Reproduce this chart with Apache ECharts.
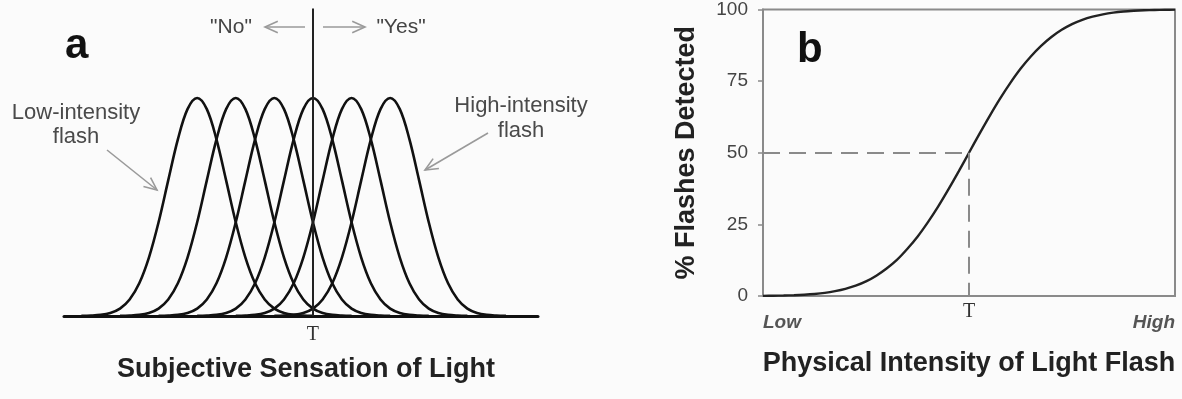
<!DOCTYPE html>
<html>
<head>
<meta charset="utf-8">
<script src="https://cdn.jsdelivr.net/npm/echarts@6/dist/echarts.min.js"></script>
<style>
  html, body { margin: 0; padding: 0; background: #fbfbfb; }
  #chart { width: 1182px; height: 399px; }
</style>
</head>
<body>
<div id="chart"></div>
<script>
// Panel a: six equal-shaped response distributions, one per flash intensity
const curveCenters = [0, 1, 2, 3, 4, 5];           // sensation units, low → high intensity
const criterionX = 3;                               // decision criterion "T"
const bellOffsets = [-3, -2.75, -2.5, -2.25, -2, -1.75, -1.5, -1.25, -1, -0.75, -0.5, -0.25, 0,
                     0.25, 0.5, 0.75, 1, 1.25, 1.5, 1.75, 2, 2.25, 2.5, 2.75, 3];
const bellHeights = [0.05, 0.17, 0.5, 1.4, 3.4, 7.6, 15, 26.8, 43, 62.2, 81, 94.9, 100,
                     94.9, 81, 62.2, 43, 26.8, 15, 7.6, 3.4, 1.4, 0.5, 0.17, 0.05];
const sensationAxisLabels = ['T'];

// Panel b: psychometric function (intensity 0 = Low, 100 = High)
const intensityX  = [0, 2.5, 5, 7.5, 10, 12.5, 15, 17.5, 20, 22.5, 25, 27.5, 30, 32.5, 35, 37.5, 40, 42.5, 45, 47.5,
                     50, 52.5, 55, 57.5, 60, 62.5, 65, 67.5, 70, 72.5, 75, 77.5, 80, 82.5, 85, 87.5, 90, 92.5, 95, 97.5, 100];
const detectedPct = [0.05, 0.1, 0.16, 0.27, 0.45, 0.71, 1.1, 1.7, 2.5, 3.6, 5.1, 7.1, 9.6, 12.6, 16.4, 20.7, 25.7, 31.2, 37.2, 43.5,
                     50, 56.5, 62.8, 68.8, 74.3, 79.3, 83.6, 87.3, 90.4, 92.9, 94.9, 96.4, 97.5, 98.3, 98.9, 99.3, 99.55, 99.73, 99.84, 99.9, 99.95];
const thresholdX = 50;
const thresholdPct = 50;
const intensityLabels = ['Low', 'T', 'High'];
const pctTicks = [0, 25, 50, 75, 100];

const chart = echarts.init(document.getElementById('chart'), null, { renderer: 'canvas' });

const bellSeries = curveCenters.map((c, k) => ({
  type: 'line',
  xAxisIndex: 0,
  yAxisIndex: 0,
  data: bellOffsets.map((o, i) => [c + o, bellHeights[i]]),
  smooth: 0.35,
  symbol: 'none',
  silent: true,
  z: 3,
  lineStyle: { color: '#111', width: 2.6 },
  markLine: k === criterionX ? {
    symbol: 'none',
    silent: true,
    label: { show: false },
    lineStyle: { color: '#222', width: 2, type: 'solid' },
    data: [{ xAxis: criterionX }]
  } : undefined
}));

const labelFont = '"Liberation Sans", Arial, sans-serif';

function arrow(points) {
  // open chevron arrow head at points[1]
  const [x0, y0] = points[0], [x1, y1] = points[1];
  const ang = Math.atan2(y1 - y0, x1 - x0);
  const L = 14, spread = 0.42;
  const a = [x1 - L * Math.cos(ang - spread), y1 - L * Math.sin(ang - spread)];
  const b = [x1 - L * Math.cos(ang + spread), y1 - L * Math.sin(ang + spread)];
  const st = { stroke: '#9a9a9a', lineWidth: 1.6, fill: null };
  return [
    { type: 'polyline', shape: { points: [[x0, y0], [x1, y1]] }, style: st, silent: true },
    { type: 'polyline', shape: { points: [a, [x1, y1], b] }, style: st, silent: true }
  ];
}

const option = {
  backgroundColor: '#fbfbfb',
  animation: false,
  grid: [
    { left: 64, right: 644, top: 8.6, bottom: 83 },
    { left: 763, right: 7, top: 8, bottom: 103, show: true, borderColor: '#8a8a8a', borderWidth: 2, backgroundColor: 'transparent' }
  ],
  xAxis: [
    {
      gridIndex: 0, type: 'value', min: -3.45, max: 8.83,
      axisLine: { show: true, onZero: false, lineStyle: { color: '#111', width: 3 } },
      axisTick: { show: false },
      splitLine: { show: false },
      axisLabel: {
        customValues: [criterionX],
        formatter: () => sensationAxisLabels[0],
        fontFamily: '"Liberation Serif", "DejaVu Serif", serif',
        fontSize: 20, color: '#333', margin: 9
      },
      name: 'Subjective Sensation of Light',
      nameLocation: 'middle', nameGap: 40,
      nameTextStyle: { fontFamily: labelFont, fontWeight: 'bold', fontSize: 27, color: '#222', padding: [0, 0, 0, 10] }
    },
    {
      gridIndex: 1, type: 'value', min: 0, max: 100,
      axisLine: { show: true, onZero: false, lineStyle: { color: '#8a8a8a', width: 2 } },
      axisTick: { show: false },
      splitLine: { show: false },
      axisLabel: {
        customValues: [0, thresholdX, 100],
        alignMinLabel: 'left',
        alignMaxLabel: 'right',
        formatter: v => v === 0 ? '{i|' + intensityLabels[0] + '}'
                      : v === 100 ? '{i|' + intensityLabels[2] + '}'
                      : '{t|' + intensityLabels[1] + '}',
        margin: 6,
        rich: {
          i: { fontFamily: labelFont, fontStyle: 'italic', fontWeight: 'bold', fontSize: 19, color: '#555', padding: [11, 0, 0, 0] },
          t: { fontFamily: '"Liberation Serif", "DejaVu Serif", serif', fontSize: 20, color: '#333' }
        }
      },
      name: 'Physical Intensity of Light Flash',
      nameLocation: 'middle', nameGap: 54,
      nameTextStyle: { fontFamily: labelFont, fontWeight: 'bold', fontSize: 27, color: '#222' }
    }
  ],
  yAxis: [
    { gridIndex: 0, type: 'value', min: 0, max: 141, show: false },
    {
      gridIndex: 1, type: 'value', min: pctTicks[0], max: pctTicks[pctTicks.length - 1], interval: 25,
      axisLine: { show: true, lineStyle: { color: '#8a8a8a', width: 2 } },
      axisTick: { show: true, length: 5, lineStyle: { color: '#8a8a8a', width: 1.5 } },
      splitLine: { show: false },
      axisLabel: { fontFamily: labelFont, fontSize: 19, color: '#444', margin: 15 },
      name: '% Flashes Detected',
      nameLocation: 'middle', nameGap: 63, nameRotate: 90,
      nameTextStyle: { fontFamily: labelFont, fontWeight: 'bold', fontSize: 27, color: '#222' }
    }
  ],
  series: bellSeries.concat([
    {
      type: 'line',
      xAxisIndex: 1,
      yAxisIndex: 1,
      data: intensityX.map((x, i) => [x, detectedPct[i]]),
      smooth: 0.3,
      symbol: 'none',
      silent: true,
      z: 3,
      lineStyle: { color: '#222', width: 2.4 },
      markLine: {
        symbol: 'none',
        silent: true,
        label: { show: false },
        lineStyle: { color: '#8a8a8a', width: 2, type: [17, 9] },
        data: [
          [{ coord: [0, thresholdPct] }, { coord: [thresholdX, thresholdPct] }],
          [{ coord: [thresholdX, thresholdPct] }, { coord: [thresholdX, 0] }]
        ]
      }
    }
  ]),
  graphic: [
    { type: 'text', x: 65, y: 46, silent: true,
      style: { text: 'a', font: 'bold 42px ' + labelFont, fill: '#111', verticalAlign: 'middle' } },
    { type: 'text', x: 797, y: 50, silent: true,
      style: { text: 'b', font: 'bold 42px ' + labelFont, fill: '#111', verticalAlign: 'middle' } },
    { type: 'text', x: 231, y: 27, silent: true,
      style: { text: '"No"', font: '21px ' + labelFont, fill: '#444', align: 'center', verticalAlign: 'middle' } },
    { type: 'text', x: 401, y: 27, silent: true,
      style: { text: '"Yes"', font: '21px ' + labelFont, fill: '#444', align: 'center', verticalAlign: 'middle' } },
    { type: 'text', x: 76, y: 125, silent: true,
      style: { text: 'Low-intensity\nflash', font: '22px ' + labelFont, lineHeight: 24, fill: '#4a4a4a', align: 'center', verticalAlign: 'middle' } },
    { type: 'text', x: 521, y: 118, silent: true,
      style: { text: 'High-intensity\nflash', font: '22px ' + labelFont, lineHeight: 25, fill: '#4a4a4a', align: 'center', verticalAlign: 'middle' } }
  ]
    .concat(arrow([[305, 27], [265, 27]]))
    .concat(arrow([[323, 27], [365, 27]]))
    .concat(arrow([[107, 150], [157, 190]]))
    .concat(arrow([[488, 133], [425, 170]]))
};

chart.setOption(option);
</script>
</body>
</html>
